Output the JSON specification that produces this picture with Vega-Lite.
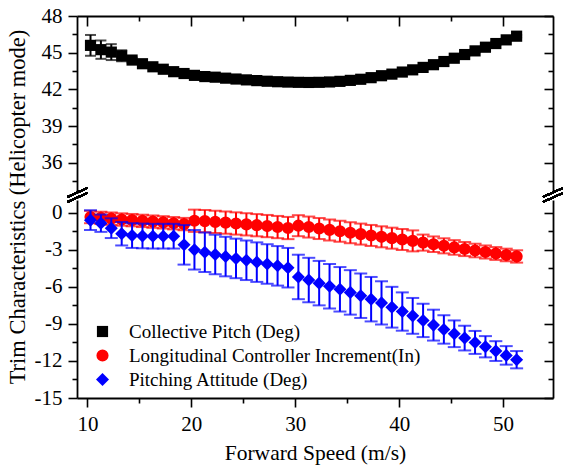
{
  "$schema": "https://vega.github.io/schema/vega-lite/v6.json",
  "padding": {"left": 5, "top": 5, "right": 5, "bottom": 5},
  "bounds": "flush",
  "spacing": 9,
  "config": {
    "font": "Liberation Serif",
    "view": {"stroke": null},
    "axis": {"grid": false, "domainColor": "black", "domainWidth": 1.8, "tickColor": "black", "tickWidth": 1.6,
      "labelColor": "black", "labelFont": "Liberation Serif", "labelFontSize": 21, "labelPadding": 6,
      "titleColor": "black", "titleFont": "Liberation Serif", "titleFontSize": 21.5, "titleFontWeight": "normal"},
    "legend": {"labelFont": "Liberation Serif", "labelFontSize": 19, "labelColor": "black", "labelLimit": 500}
  },
  "datasets": {
    "trim": [
      {"speed": 10.3, "series": "Collective Pitch (Deg)", "value": 45.6, "err": 0.85},
      {"speed": 11.3, "series": "Collective Pitch (Deg)", "value": 45.25, "err": 0.75},
      {"speed": 12.3, "series": "Collective Pitch (Deg)", "value": 45.05, "err": 0.65},
      {"speed": 13.3, "series": "Collective Pitch (Deg)", "value": 44.75, "err": 0.45},
      {"speed": 14.3, "series": "Collective Pitch (Deg)", "value": 44.4, "err": 0.2},
      {"speed": 15.3, "series": "Collective Pitch (Deg)", "value": 44.1, "err": 0.15},
      {"speed": 16.3, "series": "Collective Pitch (Deg)", "value": 43.85, "err": 0.1},
      {"speed": 17.3, "series": "Collective Pitch (Deg)", "value": 43.65, "err": 0.1},
      {"speed": 18.3, "series": "Collective Pitch (Deg)", "value": 43.45, "err": 0.1},
      {"speed": 19.3, "series": "Collective Pitch (Deg)", "value": 43.3, "err": 0.1},
      {"speed": 20.3, "series": "Collective Pitch (Deg)", "value": 43.15, "err": 0.1},
      {"speed": 21.3, "series": "Collective Pitch (Deg)", "value": 43.05, "err": 0.1},
      {"speed": 22.3, "series": "Collective Pitch (Deg)", "value": 43.0, "err": 0.1},
      {"speed": 23.3, "series": "Collective Pitch (Deg)", "value": 42.92, "err": 0.1},
      {"speed": 24.3, "series": "Collective Pitch (Deg)", "value": 42.85, "err": 0.1},
      {"speed": 25.3, "series": "Collective Pitch (Deg)", "value": 42.78, "err": 0.1},
      {"speed": 26.3, "series": "Collective Pitch (Deg)", "value": 42.72, "err": 0.1},
      {"speed": 27.3, "series": "Collective Pitch (Deg)", "value": 42.67, "err": 0.1},
      {"speed": 28.3, "series": "Collective Pitch (Deg)", "value": 42.63, "err": 0.1},
      {"speed": 29.3, "series": "Collective Pitch (Deg)", "value": 42.6, "err": 0.1},
      {"speed": 30.3, "series": "Collective Pitch (Deg)", "value": 42.58, "err": 0.1},
      {"speed": 31.3, "series": "Collective Pitch (Deg)", "value": 42.57, "err": 0.1},
      {"speed": 32.3, "series": "Collective Pitch (Deg)", "value": 42.58, "err": 0.1},
      {"speed": 33.3, "series": "Collective Pitch (Deg)", "value": 42.61, "err": 0.1},
      {"speed": 34.3, "series": "Collective Pitch (Deg)", "value": 42.66, "err": 0.1},
      {"speed": 35.3, "series": "Collective Pitch (Deg)", "value": 42.74, "err": 0.1},
      {"speed": 36.3, "series": "Collective Pitch (Deg)", "value": 42.83, "err": 0.1},
      {"speed": 37.3, "series": "Collective Pitch (Deg)", "value": 42.96, "err": 0.1},
      {"speed": 38.3, "series": "Collective Pitch (Deg)", "value": 43.12, "err": 0.1},
      {"speed": 39.3, "series": "Collective Pitch (Deg)", "value": 43.25, "err": 0.1},
      {"speed": 40.3, "series": "Collective Pitch (Deg)", "value": 43.42, "err": 0.1},
      {"speed": 41.3, "series": "Collective Pitch (Deg)", "value": 43.6, "err": 0.1},
      {"speed": 42.3, "series": "Collective Pitch (Deg)", "value": 43.8, "err": 0.1},
      {"speed": 43.3, "series": "Collective Pitch (Deg)", "value": 44.02, "err": 0.1},
      {"speed": 44.3, "series": "Collective Pitch (Deg)", "value": 44.28, "err": 0.1},
      {"speed": 45.3, "series": "Collective Pitch (Deg)", "value": 44.55, "err": 0.1},
      {"speed": 46.3, "series": "Collective Pitch (Deg)", "value": 44.85, "err": 0.1},
      {"speed": 47.3, "series": "Collective Pitch (Deg)", "value": 45.15, "err": 0.1},
      {"speed": 48.3, "series": "Collective Pitch (Deg)", "value": 45.45, "err": 0.1},
      {"speed": 49.3, "series": "Collective Pitch (Deg)", "value": 45.75, "err": 0.1},
      {"speed": 50.3, "series": "Collective Pitch (Deg)", "value": 46.05, "err": 0.1},
      {"speed": 51.3, "series": "Collective Pitch (Deg)", "value": 46.35, "err": 0.1},

      {"speed": 10.3, "series": "Longitudinal Controller Increment(In)", "value": -0.35, "err": 0.5},
      {"speed": 11.3, "series": "Longitudinal Controller Increment(In)", "value": -0.42, "err": 0.5},
      {"speed": 12.3, "series": "Longitudinal Controller Increment(In)", "value": -0.48, "err": 0.5},
      {"speed": 13.3, "series": "Longitudinal Controller Increment(In)", "value": -0.55, "err": 0.5},
      {"speed": 14.3, "series": "Longitudinal Controller Increment(In)", "value": -0.6, "err": 0.5},
      {"speed": 15.3, "series": "Longitudinal Controller Increment(In)", "value": -0.66, "err": 0.5},
      {"speed": 16.3, "series": "Longitudinal Controller Increment(In)", "value": -0.72, "err": 0.5},
      {"speed": 17.3, "series": "Longitudinal Controller Increment(In)", "value": -0.78, "err": 0.5},
      {"speed": 18.3, "series": "Longitudinal Controller Increment(In)", "value": -0.85, "err": 0.5},
      {"speed": 19.3, "series": "Longitudinal Controller Increment(In)", "value": -0.92, "err": 0.5},
      {"speed": 20.3, "series": "Longitudinal Controller Increment(In)", "value": -0.65, "err": 0.9},
      {"speed": 21.3, "series": "Longitudinal Controller Increment(In)", "value": -0.68, "err": 0.9},
      {"speed": 22.3, "series": "Longitudinal Controller Increment(In)", "value": -0.74, "err": 0.9},
      {"speed": 23.3, "series": "Longitudinal Controller Increment(In)", "value": -0.8, "err": 0.9},
      {"speed": 24.3, "series": "Longitudinal Controller Increment(In)", "value": -0.87, "err": 0.9},
      {"speed": 25.3, "series": "Longitudinal Controller Increment(In)", "value": -0.94, "err": 0.9},
      {"speed": 26.3, "series": "Longitudinal Controller Increment(In)", "value": -1.01, "err": 0.9},
      {"speed": 27.3, "series": "Longitudinal Controller Increment(In)", "value": -1.08, "err": 0.9},
      {"speed": 28.3, "series": "Longitudinal Controller Increment(In)", "value": -1.16, "err": 0.9},
      {"speed": 29.3, "series": "Longitudinal Controller Increment(In)", "value": -1.24, "err": 0.9},
      {"speed": 30.3, "series": "Longitudinal Controller Increment(In)", "value": -1.05, "err": 0.85},
      {"speed": 31.3, "series": "Longitudinal Controller Increment(In)", "value": -1.16, "err": 0.85},
      {"speed": 32.3, "series": "Longitudinal Controller Increment(In)", "value": -1.28, "err": 0.85},
      {"speed": 33.3, "series": "Longitudinal Controller Increment(In)", "value": -1.39, "err": 0.85},
      {"speed": 34.3, "series": "Longitudinal Controller Increment(In)", "value": -1.5, "err": 0.85},
      {"speed": 35.3, "series": "Longitudinal Controller Increment(In)", "value": -1.62, "err": 0.85},
      {"speed": 36.3, "series": "Longitudinal Controller Increment(In)", "value": -1.73, "err": 0.85},
      {"speed": 37.3, "series": "Longitudinal Controller Increment(In)", "value": -1.84, "err": 0.85},
      {"speed": 38.3, "series": "Longitudinal Controller Increment(In)", "value": -1.95, "err": 0.85},
      {"speed": 39.3, "series": "Longitudinal Controller Increment(In)", "value": -2.06, "err": 0.85},
      {"speed": 40.3, "series": "Longitudinal Controller Increment(In)", "value": -2.17, "err": 0.85},
      {"speed": 41.3, "series": "Longitudinal Controller Increment(In)", "value": -2.28, "err": 0.85},
      {"speed": 42.3, "series": "Longitudinal Controller Increment(In)", "value": -2.42, "err": 0.65},
      {"speed": 43.3, "series": "Longitudinal Controller Increment(In)", "value": -2.55, "err": 0.63},
      {"speed": 44.3, "series": "Longitudinal Controller Increment(In)", "value": -2.68, "err": 0.61},
      {"speed": 45.3, "series": "Longitudinal Controller Increment(In)", "value": -2.81, "err": 0.59},
      {"speed": 46.3, "series": "Longitudinal Controller Increment(In)", "value": -2.94, "err": 0.57},
      {"speed": 47.3, "series": "Longitudinal Controller Increment(In)", "value": -3.06, "err": 0.55},
      {"speed": 48.3, "series": "Longitudinal Controller Increment(In)", "value": -3.18, "err": 0.53},
      {"speed": 49.3, "series": "Longitudinal Controller Increment(In)", "value": -3.3, "err": 0.52},
      {"speed": 50.3, "series": "Longitudinal Controller Increment(In)", "value": -3.42, "err": 0.51},
      {"speed": 51.3, "series": "Longitudinal Controller Increment(In)", "value": -3.54, "err": 0.5},

      {"speed": 10.3, "series": "Pitching Attitude (Deg)", "value": -0.6, "err": 0.8},
      {"speed": 11.3, "series": "Pitching Attitude (Deg)", "value": -0.85, "err": 0.7},
      {"speed": 12.3, "series": "Pitching Attitude (Deg)", "value": -1.25, "err": 0.8},
      {"speed": 13.3, "series": "Pitching Attitude (Deg)", "value": -1.7, "err": 0.95},
      {"speed": 14.3, "series": "Pitching Attitude (Deg)", "value": -1.85, "err": 1.0},
      {"speed": 15.3, "series": "Pitching Attitude (Deg)", "value": -1.88, "err": 1.0},
      {"speed": 16.3, "series": "Pitching Attitude (Deg)", "value": -1.9, "err": 1.0},
      {"speed": 17.3, "series": "Pitching Attitude (Deg)", "value": -1.9, "err": 1.0},
      {"speed": 18.3, "series": "Pitching Attitude (Deg)", "value": -1.9, "err": 1.0},
      {"speed": 19.3, "series": "Pitching Attitude (Deg)", "value": -2.6, "err": 1.6},
      {"speed": 20.3, "series": "Pitching Attitude (Deg)", "value": -3.0, "err": 1.6},
      {"speed": 21.3, "series": "Pitching Attitude (Deg)", "value": -3.2, "err": 1.6},
      {"speed": 22.3, "series": "Pitching Attitude (Deg)", "value": -3.38, "err": 1.6},
      {"speed": 23.3, "series": "Pitching Attitude (Deg)", "value": -3.55, "err": 1.6},
      {"speed": 24.3, "series": "Pitching Attitude (Deg)", "value": -3.7, "err": 1.6},
      {"speed": 25.3, "series": "Pitching Attitude (Deg)", "value": -3.85, "err": 1.6},
      {"speed": 26.3, "series": "Pitching Attitude (Deg)", "value": -4.0, "err": 1.6},
      {"speed": 27.3, "series": "Pitching Attitude (Deg)", "value": -4.15, "err": 1.6},
      {"speed": 28.3, "series": "Pitching Attitude (Deg)", "value": -4.3, "err": 1.6},
      {"speed": 29.3, "series": "Pitching Attitude (Deg)", "value": -4.45, "err": 1.6},
      {"speed": 30.3, "series": "Pitching Attitude (Deg)", "value": -5.2, "err": 1.8},
      {"speed": 31.3, "series": "Pitching Attitude (Deg)", "value": -5.45, "err": 1.8},
      {"speed": 32.3, "series": "Pitching Attitude (Deg)", "value": -5.7, "err": 1.8},
      {"speed": 33.3, "series": "Pitching Attitude (Deg)", "value": -5.95, "err": 1.8},
      {"speed": 34.3, "series": "Pitching Attitude (Deg)", "value": -6.2, "err": 1.8},
      {"speed": 35.3, "series": "Pitching Attitude (Deg)", "value": -6.45, "err": 1.8},
      {"speed": 36.3, "series": "Pitching Attitude (Deg)", "value": -6.72, "err": 1.8},
      {"speed": 37.3, "series": "Pitching Attitude (Deg)", "value": -7.0, "err": 1.8},
      {"speed": 38.3, "series": "Pitching Attitude (Deg)", "value": -7.3, "err": 1.75},
      {"speed": 39.3, "series": "Pitching Attitude (Deg)", "value": -7.65, "err": 1.65},
      {"speed": 40.3, "series": "Pitching Attitude (Deg)", "value": -8.0, "err": 1.55},
      {"speed": 41.3, "series": "Pitching Attitude (Deg)", "value": -8.35, "err": 1.45},
      {"speed": 42.3, "series": "Pitching Attitude (Deg)", "value": -8.72, "err": 1.35},
      {"speed": 43.3, "series": "Pitching Attitude (Deg)", "value": -9.1, "err": 1.25},
      {"speed": 44.3, "series": "Pitching Attitude (Deg)", "value": -9.45, "err": 1.15},
      {"speed": 45.3, "series": "Pitching Attitude (Deg)", "value": -9.8, "err": 1.08},
      {"speed": 46.3, "series": "Pitching Attitude (Deg)", "value": -10.15, "err": 1.0},
      {"speed": 47.3, "series": "Pitching Attitude (Deg)", "value": -10.5, "err": 0.93},
      {"speed": 48.3, "series": "Pitching Attitude (Deg)", "value": -10.85, "err": 0.86},
      {"speed": 49.3, "series": "Pitching Attitude (Deg)", "value": -11.2, "err": 0.8},
      {"speed": 50.3, "series": "Pitching Attitude (Deg)", "value": -11.55, "err": 0.75},
      {"speed": 51.3, "series": "Pitching Attitude (Deg)", "value": -11.9, "err": 0.7}
    ]
  },
  "vconcat": [
    {
      "width": 476,
      "height": 175,
      "data": {"name": "trim"},
      "transform": [{"filter": {"field": "series", "equal": "Collective Pitch (Deg)"}}],
      "resolve": {"axis": {"x": "independent", "y": "independent"}},
      "layer": [
        {
          "mark": {"type": "errorbar", "ticks": true, "size": 11, "thickness": 2, "color": "black"},
          "encoding": {
            "x": {"field": "speed", "type": "quantitative", "scale": {"domain": [9, 54.8], "nice": false, "zero": false}, "axis": null},
            "y": {"field": "value", "type": "quantitative", "scale": {"domain": [33.7, 48], "nice": false, "zero": false}, "axis": null},
            "yError": {"field": "err"}
          }
        },
        {
          "mark": {"type": "point", "filled": true, "opacity": 1},
          "encoding": {
            "x": {"field": "speed", "type": "quantitative", "scale": {"domain": [9, 54.8], "nice": false, "zero": false},
              "axis": {"orient": "top", "values": [10, 15, 20, 25, 30, 35, 40, 45, 50], "labels": false, "title": null,
                "tickSize": {"condition": {"test": "datum.value % 10 === 0", "value": -10}, "value": -5}}},
            "y": {"field": "value", "type": "quantitative", "scale": {"domain": [33.7, 48], "nice": false, "zero": false},
              "axis": {"orient": "left", "values": [34.5, 36, 37.5, 39, 40.5, 42, 43.5, 45, 46.5, 48], "title": null,
                "labelExpr": "datum.value % 3 === 0 ? datum.label : ''",
                "tickSize": {"condition": {"test": "datum.value % 3 === 0", "value": 9}, "value": 5}}},
            "color": {"field": "series", "type": "nominal",
              "scale": {"domain": ["Collective Pitch (Deg)", "Longitudinal Controller Increment(In)", "Pitching Attitude (Deg)"], "range": ["#000000", "#ff0000", "#0000ff"]},
              "legend": {"orient": "none", "legendX": 16, "legendY": 306, "title": null, "labelOffset": 17, "rowPadding": 4, "labelLimit": 500}},
            "shape": {"field": "series", "type": "nominal",
              "scale": {"domain": ["Collective Pitch (Deg)", "Longitudinal Controller Increment(In)", "Pitching Attitude (Deg)"], "range": ["square", "circle", "diamond"]},
              "legend": {"orient": "none", "legendX": 16, "legendY": 306, "title": null, "labelOffset": 17, "rowPadding": 4, "labelLimit": 500}},
            "size": {"field": "series", "type": "nominal",
              "scale": {"domain": ["Collective Pitch (Deg)", "Longitudinal Controller Increment(In)", "Pitching Attitude (Deg)"], "range": [125, 170, 250]},
              "legend": {"orient": "none", "legendX": 16, "legendY": 306, "title": null, "labelOffset": 17, "rowPadding": 4, "labelLimit": 500}}
          }
        },
        {
          "mark": {"type": "point", "opacity": 0},
          "encoding": {
            "x": {"field": "speed", "type": "quantitative", "scale": {"domain": [9, 54.8], "nice": false, "zero": false}, "axis": null},
            "y": {"field": "value", "type": "quantitative", "scale": {"domain": [33.7, 48], "nice": false, "zero": false},
              "axis": {"orient": "right", "values": [34.5, 36, 37.5, 39, 40.5, 42, 43.5, 45, 46.5, 48], "title": null, "labels": false,
                "tickSize": {"condition": {"test": "datum.value % 3 === 0", "value": -9}, "value": -5}}}
          }
        }
      ]
    },
    {
      "width": 476,
      "height": 198,
      "data": {"name": "trim"},
      "resolve": {"axis": {"x": "independent", "y": "independent"}},
      "layer": [
        {
          "transform": [{"filter": {"field": "series", "equal": "Longitudinal Controller Increment(In)"}}],
          "mark": {"type": "errorbar", "ticks": true, "size": 13, "thickness": 2, "color": "#ff0000"},
          "encoding": {
            "x": {"field": "speed", "type": "quantitative", "scale": {"domain": [9, 54.8], "nice": false, "zero": false}, "axis": null},
            "y": {"field": "value", "type": "quantitative", "scale": {"domain": [-15, 1.03], "nice": false, "zero": false}, "axis": null},
            "yError": {"field": "err"}
          }
        },
        {
          "transform": [{"filter": {"field": "series", "equal": "Longitudinal Controller Increment(In)"}}],
          "mark": {"type": "point", "filled": true, "opacity": 1},
          "encoding": {
            "x": {"field": "speed", "type": "quantitative", "scale": {"domain": [9, 54.8], "nice": false, "zero": false},
              "axis": {"orient": "bottom", "values": [10, 15, 20, 25, 30, 35, 40, 45, 50], "title": "Forward Speed (m/s)",
                "labelExpr": "datum.value % 10 === 0 ? datum.label : ''", "titlePadding": 8,
                "tickSize": {"condition": {"test": "datum.value % 10 === 0", "value": 9}, "value": 5}}},
            "y": {"field": "value", "type": "quantitative", "scale": {"domain": [-15, 1.03], "nice": false, "zero": false},
              "axis": {"orient": "left", "values": [-15, -13.5, -12, -10.5, -9, -7.5, -6, -4.5, -3, -1.5, 0],
                "title": "Trim Characteristics (Helicopter mode)", "titleFontSize": 22.5, "titleX": -60, "titleY": 6.5, "titleBaseline": "middle", "titleAlign": "center", "titleAngle": -90,
                "labelExpr": "datum.value % 3 === 0 ? (datum.value < 0 ? '-' + abs(datum.value) : '' + datum.value) : ''",
                "tickSize": {"condition": {"test": "datum.value % 3 === 0", "value": 9}, "value": 5}}},
            "color": {"field": "series", "type": "nominal",
              "scale": {"domain": ["Collective Pitch (Deg)", "Longitudinal Controller Increment(In)", "Pitching Attitude (Deg)"], "range": ["#000000", "#ff0000", "#0000ff"]},
              "legend": {"orient": "none", "legendX": 16, "legendY": 306, "title": null, "labelOffset": 17, "rowPadding": 4, "labelLimit": 500}},
            "shape": {"field": "series", "type": "nominal",
              "scale": {"domain": ["Collective Pitch (Deg)", "Longitudinal Controller Increment(In)", "Pitching Attitude (Deg)"], "range": ["square", "circle", "diamond"]},
              "legend": {"orient": "none", "legendX": 16, "legendY": 306, "title": null, "labelOffset": 17, "rowPadding": 4, "labelLimit": 500}},
            "size": {"field": "series", "type": "nominal",
              "scale": {"domain": ["Collective Pitch (Deg)", "Longitudinal Controller Increment(In)", "Pitching Attitude (Deg)"], "range": [125, 170, 250]},
              "legend": {"orient": "none", "legendX": 16, "legendY": 306, "title": null, "labelOffset": 17, "rowPadding": 4, "labelLimit": 500}}
          }
        },
        {
          "transform": [{"filter": {"field": "series", "equal": "Pitching Attitude (Deg)"}}],
          "mark": {"type": "errorbar", "ticks": true, "size": 13, "thickness": 2, "color": "#0000ff"},
          "encoding": {
            "x": {"field": "speed", "type": "quantitative", "scale": {"domain": [9, 54.8], "nice": false, "zero": false}, "axis": null},
            "y": {"field": "value", "type": "quantitative", "scale": {"domain": [-15, 1.03], "nice": false, "zero": false}, "axis": null},
            "yError": {"field": "err"}
          }
        },
        {
          "transform": [{"filter": {"field": "series", "equal": "Pitching Attitude (Deg)"}}],
          "mark": {"type": "point", "filled": true, "opacity": 1},
          "encoding": {
            "x": {"field": "speed", "type": "quantitative", "scale": {"domain": [9, 54.8], "nice": false, "zero": false}, "axis": null},
            "y": {"field": "value", "type": "quantitative", "scale": {"domain": [-15, 1.03], "nice": false, "zero": false},
              "axis": {"orient": "right", "values": [-15, -13.5, -12, -10.5, -9, -7.5, -6, -4.5, -3, -1.5, 0], "title": null, "labels": false,
                "tickSize": {"condition": {"test": "datum.value % 3 === 0", "value": -9}, "value": -5}}},
            "color": {"field": "series", "type": "nominal",
              "scale": {"domain": ["Collective Pitch (Deg)", "Longitudinal Controller Increment(In)", "Pitching Attitude (Deg)"], "range": ["#000000", "#ff0000", "#0000ff"]},
              "legend": {"orient": "none", "legendX": 16, "legendY": 306, "title": null, "labelOffset": 17, "rowPadding": 4, "labelLimit": 500}},
            "shape": {"field": "series", "type": "nominal",
              "scale": {"domain": ["Collective Pitch (Deg)", "Longitudinal Controller Increment(In)", "Pitching Attitude (Deg)"], "range": ["square", "circle", "diamond"]},
              "legend": {"orient": "none", "legendX": 16, "legendY": 306, "title": null, "labelOffset": 17, "rowPadding": 4, "labelLimit": 500}},
            "size": {"field": "series", "type": "nominal",
              "scale": {"domain": ["Collective Pitch (Deg)", "Longitudinal Controller Increment(In)", "Pitching Attitude (Deg)"], "range": [125, 170, 250]},
              "legend": {"orient": "none", "legendX": 16, "legendY": 306, "title": null, "labelOffset": 17, "rowPadding": 4, "labelLimit": 500}}
          }
        },
        {
          "mark": {"type": "rule", "color": "black", "strokeWidth": 1.5},
          "encoding": {
            "x": {"datum": 8.07, "type": "quantitative", "axis": null}, "x2": {"datum": 9.99},
            "y": {"datum": 0.87, "type": "quantitative", "axis": null}, "y2": {"datum": 1.6}
          }
        },
        {
          "mark": {"type": "rule", "color": "black", "strokeWidth": 1.5},
          "encoding": {
            "x": {"datum": 8.07, "type": "quantitative", "axis": null}, "x2": {"datum": 9.99},
            "y": {"datum": 1.27, "type": "quantitative", "axis": null}, "y2": {"datum": 2.0}
          }
        },
        {
          "mark": {"type": "rule", "color": "black", "strokeWidth": 1.5},
          "encoding": {
            "x": {"datum": 53.84, "type": "quantitative", "axis": null}, "x2": {"datum": 55.76},
            "y": {"datum": 0.87, "type": "quantitative", "axis": null}, "y2": {"datum": 1.6}
          }
        },
        {
          "mark": {"type": "rule", "color": "black", "strokeWidth": 1.5},
          "encoding": {
            "x": {"datum": 53.84, "type": "quantitative", "axis": null}, "x2": {"datum": 55.76},
            "y": {"datum": 1.27, "type": "quantitative", "axis": null}, "y2": {"datum": 2.0}
          }
        }
      ]
    }
  ]
}
